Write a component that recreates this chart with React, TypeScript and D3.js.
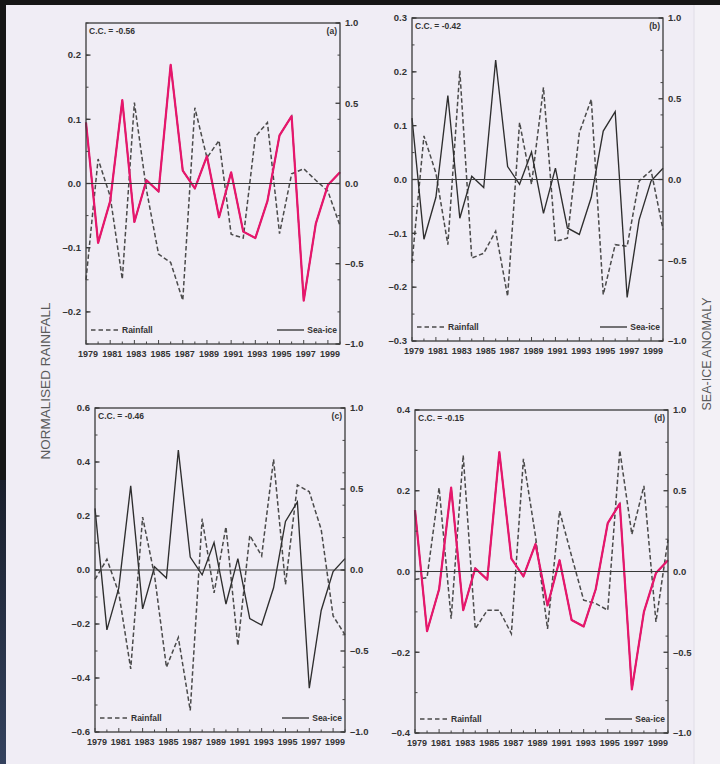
import React from 'react'
import * as d3 from 'd3'

// years on the x axis, labels every other year
const years = [1979, 1980, 1981, 1982, 1983, 1984, 1985, 1986, 1987, 1988, 1989, 1990, 1991, 1992, 1993, 1994, 1995, 1996, 1997, 1998, 1999, 2000]
const yearLabels = [1979, 1981, 1983, 1985, 1987, 1989, 1991, 1993, 1995, 1997, 1999]

// sea-ice anomaly (right axis, same series in every panel)
const seaIce = [0.38, -0.37, -0.11, 0.52, -0.24, 0.02, -0.05, 0.74, 0.08, -0.03, 0.17, -0.21, 0.07, -0.3, -0.34, -0.11, 0.3, 0.42, -0.73, -0.25, -0.01, 0.07]

// normalised rainfall (left axis), one series per panel
const rainA = [-0.15, 0.038, -0.02, -0.149, 0.126, -0.01, -0.11, -0.123, -0.182, 0.118, 0.04, 0.067, -0.079, -0.085, 0.073, 0.095, -0.078, 0.015, 0.023, 0.005, -0.012, -0.066]
const rainB = [-0.155, 0.081, 0.012, -0.121, 0.202, -0.146, -0.137, -0.096, -0.217, 0.106, -0.009, 0.171, -0.115, -0.109, 0.087, 0.149, -0.214, -0.121, -0.124, -0.003, 0.017, -0.093]
const rainC = [-0.035, 0.04, -0.085, -0.366, 0.196, -0.02, -0.36, -0.25, -0.52, 0.19, -0.085, 0.16, -0.28, 0.128, 0.052, 0.41, -0.054, 0.315, 0.29, 0.15, -0.17, -0.24]
const rainD = [-0.02, -0.015, 0.208, -0.117, 0.288, -0.142, -0.096, -0.096, -0.154, 0.279, 0.088, -0.142, 0.15, 0.038, -0.071, -0.079, -0.096, 0.3, 0.092, 0.212, -0.125, 0.079]

const ccLabels = ['C.C. = -0.56', 'C.C. = -0.42', 'C.C. = -0.46', 'C.C. = -0.15']
const tags = ['(a)', '(b)', '(c)', '(d)']
const leftMax = [0.25, 0.3, 0.6, 0.4]
const leftTickCount = [5, 6, 6, 4]

const font = '"Liberation Sans", Arial, sans-serif'
const ink = '#333'
const pink = '#e8166c'

const fmt = (d: number) => (d < -1e-9 ? '–' : '') + Math.abs(d).toFixed(1)

type PanelProps = {
  box: [number, number, number, number]
  rain: number[]
  max: number
  count: number
  cc: string
  tag: string
  highlight: boolean
}

const Panel = ({ box, rain, max, count, cc, tag, highlight }: PanelProps) => {
  const [x0, y0, x1, y1] = box
  const x = d3.scaleLinear().domain([1979, 2000]).range([x0, x1])
  const yL = d3.scaleLinear().domain([-max, max]).range([y1, y0])
  const yR = d3.scaleLinear().domain([-1, 1]).range([y1, y0])

  const rainLine = d3
    .line<number>()
    .x((d, i) => x(years[i]))
    .y((d) => yL(d))
  const iceLine = d3
    .line<number>()
    .x((d, i) => x(years[i]))
    .y((d) => yR(d))

  const leftMajor = yL.ticks(count)
  const leftMinor = yL.ticks(count * 2)
  const rightMajor = yR.ticks(4)
  const rightMinor = yR.ticks(8)

  return (
    <g fontFamily={font} fill={ink}>
      {/* data */}
      <path d={rainLine(rain) || ''} fill="none" stroke="#4a4a4a" strokeWidth={1.5} strokeDasharray="4.5,2.5" />
      <path d={iceLine(seaIce) || ''} fill="none" stroke="#2e2e2e" strokeWidth={1.35} />
      {highlight && (
        <path d={iceLine(seaIce) || ''} fill="none" stroke={pink} strokeWidth={2.2} strokeLinejoin="round" />
      )}
      {/* zero line */}
      <line x1={x0} x2={x1} y1={yL(0)} y2={yL(0)} stroke="#3a3a3a" strokeWidth={1.2} />
      {/* frame */}
      <rect x={x0} y={y0} width={x1 - x0} height={y1 - y0} fill="none" stroke="#3a3a3a" strokeWidth={1.3} />

      {/* left axis */}
      {leftMinor.map((t) => (
        <line key={'lm' + t} x1={x0} x2={x0 + 2.5} y1={yL(t)} y2={yL(t)} stroke="#444" />
      ))}
      {leftMajor.map((t) => (
        <g key={'l' + t}>
          <line x1={x0} x2={x0 + 4.5} y1={yL(t)} y2={yL(t)} stroke="#3a3a3a" strokeWidth={1.3} />
          <text x={x0 - 5} y={yL(t) + 3.3} fontSize={9.5} fontWeight="bold" textAnchor="end">
            {fmt(t)}
          </text>
        </g>
      ))}

      {/* right axis */}
      {rightMinor.map((t) => (
        <line key={'rm' + t} x1={x1} x2={x1 - 2.5} y1={yR(t)} y2={yR(t)} stroke="#444" />
      ))}
      {rightMajor.map((t) => (
        <g key={'r' + t}>
          <line x1={x1} x2={x1 - 4.5} y1={yR(t)} y2={yR(t)} stroke="#3a3a3a" strokeWidth={1.3} />
          <text x={x1 + 5} y={yR(t) + 3.3} fontSize={9.5} fontWeight="bold">
            {fmt(t)}
          </text>
        </g>
      ))}

      {/* bottom axis */}
      {years.map((yr) => (
        <line
          key={'x' + yr}
          x1={x(yr)}
          x2={x(yr)}
          y1={y1}
          y2={y1 - (yr % 2 === 1 ? 4 : 2.5)}
          stroke="#444"
        />
      ))}
      {yearLabels.map((yr) => (
        <text key={'xl' + yr} x={x(yr) + 2} y={y1 + 12.5} fontSize={9} fontWeight="bold" textAnchor="middle">
          {yr}
        </text>
      ))}

      {/* annotations */}
      <text x={x0 + 3} y={y0 + 11} fontSize={8.5} fontWeight="bold">
        {cc}
      </text>
      <text x={x1 - 3} y={y0 + 11} fontSize={8.5} fontWeight="bold" textAnchor="end">
        {tag}
      </text>

      {/* legend */}
      <line x1={x0 + 5} x2={x0 + 33} y1={y1 - 14} y2={y1 - 14} stroke="#4a4a4a" strokeWidth={1.3} strokeDasharray="4.5,3" />
      <text x={x0 + 36} y={y1 - 11} fontSize={8.5} fontWeight="bold">
        Rainfall
      </text>
      <line x1={x1 - 63} x2={x1 - 36} y1={y1 - 14} y2={y1 - 14} stroke="#2e2e2e" strokeWidth={1.3} />
      <text x={x1 - 3} y={y1 - 11} fontSize={8.5} fontWeight="bold" textAnchor="end">
        Sea-ice
      </text>
    </g>
  )
}

const boxes: [number, number, number, number][] = [
  [86, 23, 340, 344],
  [412, 18, 663, 341],
  [95, 408, 345, 732],
  [415, 410, 668, 733],
]
const rains = [rainA, rainB, rainC, rainD]
const highlighted = [true, false, false, true]

export default function App() {
  return (
    <svg width={720} height={764} style={{ position: 'absolute', left: 0, top: 0 }}>
      <defs>
        <linearGradient id="edge" x1="0" y1="0" x2="0" y2="1">
          <stop offset="0" stopColor="#1a1f2c" />
          <stop offset="1" stopColor="#34425e" />
        </linearGradient>
      </defs>
      <rect x={0} y={0} width={720} height={764} fill="#f0edf5" />
      <rect x={694} y={0} width={26} height={764} fill="#f3f1f6" />
      <line x1={694} x2={694} y1={0} y2={764} stroke="#e0dde6" />
      <rect x={0} y={0} width={720} height={5} fill="#161616" />
      <rect x={0} y={0} width={6} height={480} fill="#161616" />
      <rect x={0} y={480} width={6} height={284} fill="url(#edge)" />

      {boxes.map((b, i) => (
        <Panel
          key={i}
          box={b}
          rain={rains[i]}
          max={leftMax[i]}
          count={leftTickCount[i]}
          cc={ccLabels[i]}
          tag={tags[i]}
          highlight={highlighted[i]}
        />
      ))}

      <text
        transform="translate(50,381) rotate(-90)"
        textAnchor="middle"
        fontFamily={font}
        fontSize={13.5}
        fill="#5a5a5a"
      >
        NORMALISED RAINFALL
      </text>
      <text
        transform="translate(711,354) rotate(-90)"
        textAnchor="middle"
        fontFamily={font}
        fontSize={12.5}
        fill="#5a5a5a"
      >
        SEA-ICE ANOMALY
      </text>
    </svg>
  )
}
